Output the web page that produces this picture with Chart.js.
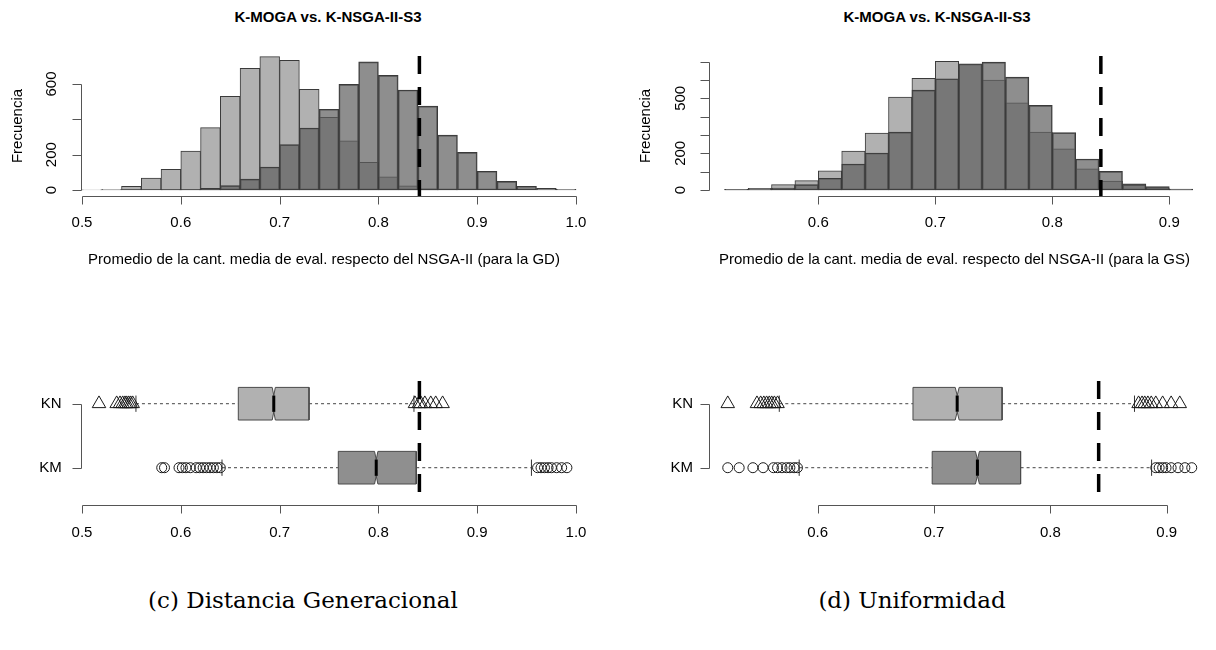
<!DOCTYPE html>
<html>
<head>
<meta charset="utf-8">
<script src="https://cdn.jsdelivr.net/npm/chart.js@4.4.1/dist/chart.umd.min.js"></script>
<style>
  body { margin: 0; background: #fff; }
  #page { position: relative; width: 1216px; height: 650px; font-family: "Liberation Sans", Arial, sans-serif; color: #000; }
  canvas { position: absolute; }
  .title { position: absolute; top: 8px; width: 300px; margin-left: -150px; text-align: center; font-weight: bold; font-size: 15px; line-height: 18px; }
  .caption { position: absolute; top: 585px; width: 420px; margin-left: -210px; text-align: center; font-family: "DejaVu Serif", serif; font-size: 23px; line-height: 30px; }
</style>
</head>
<body>
<div id="page">
  <div class="title" style="left:328px">K-MOGA vs. K-NSGA-II-S3</div>
  <div class="title" style="left:937px">K-MOGA vs. K-NSGA-II-S3</div>
  <canvas id="histGD" width="608" height="290" style="left:0;top:0"></canvas>
  <canvas id="histGS" width="608" height="290" style="left:608px;top:0"></canvas>
  <canvas id="boxGD" width="608" height="250" style="left:0;top:300px"></canvas>
  <canvas id="boxGS" width="608" height="250" style="left:608px;top:300px"></canvas>
  <div class="caption" style="left:303px">(c) Distancia Generacional</div>
  <div class="caption" style="left:912px">(d) Uniformidad</div>
</div>
<script>
// ---- histogram data (bin midpoints, width 0.02) ----
const gdBins = [0.51, 0.53, 0.55, 0.57, 0.59, 0.61, 0.63, 0.65, 0.67, 0.69, 0.71, 0.73, 0.75,
                0.77, 0.79, 0.81, 0.83, 0.85, 0.87, 0.89, 0.91, 0.93, 0.95, 0.97, 0.99];
const gdKN = [1, 4, 21, 68, 117, 221, 353, 530, 689, 755, 734, 570, 412,
              279, 157, 74, 23, 6, 2, 0, 0, 0, 0, 0, 0];
const gdKM = [0, 0, 0, 0, 1, 2, 9, 25, 62, 130, 257, 351, 457,
              598, 725, 649, 566, 475, 311, 213, 106, 49, 21, 9, 4];

const gsBins = [0.53, 0.55, 0.57, 0.59, 0.61, 0.63, 0.65, 0.67, 0.69, 0.71,
                0.73, 0.75, 0.77, 0.79, 0.81, 0.83, 0.85, 0.87, 0.89, 0.91];
const gsKN = [4, 9, 29, 51, 105, 213, 311, 507, 609, 702, 684, 600, 476, 316, 225, 115, 49, 25, 9, 4];
const gsKM = [3, 7, 11, 29, 64, 142, 202, 316, 545, 607, 689, 698, 616, 462, 313, 169, 102, 33, 18, 5];

// ---- boxplot data: [whisker low, Q1, median, Q3, whisker high] ----
const groups = ['KM', 'KN'];
const gdStatsKM = [0.6417, 0.7594, 0.7978, 0.8383, 0.9549];
const gdStatsKN = [0.5546, 0.6582, 0.6941, 0.7298, 0.8360];
const gsStatsKM = [0.5841, 0.6984, 0.7373, 0.7744, 0.8870];
const gsStatsKN = [0.5670, 0.6819, 0.7199, 0.7585, 0.8723];
const gdNotch = [0.0017, 0.0016];   // KM, KN
const gsNotch = [0.0017, 0.0017];

const gdOutKM = [0.5807, 0.5835, 0.5982, 0.6016, 0.6052, 0.6096, 0.6156, 0.6191, 0.6226, 0.6261, 0.6296,
                 0.6330, 0.6365, 0.6400, 0.9611, 0.9646, 0.9681, 0.9717, 0.9751, 0.9804, 0.9855, 0.9908];
const gdOutKN = [0.5172, 0.5351, 0.5385, 0.5412, 0.5435, 0.5452, 0.5473, 0.5493, 0.5513,
                 0.8370, 0.8410, 0.8430, 0.8470, 0.8530, 0.8580, 0.8650];
const gsOutKM = [0.5227, 0.5325, 0.5443, 0.5531, 0.5620, 0.5655, 0.5693, 0.5732, 0.5761, 0.5797, 0.5826,
                 0.8906, 0.8935, 0.8965, 0.8994, 0.9038, 0.9097, 0.9156, 0.9215];
const gsOutKN = [0.5227, 0.5478, 0.5510, 0.5537, 0.5561, 0.5584, 0.5605, 0.5628, 0.5655,
                 0.8758, 0.8788, 0.8811, 0.8838, 0.8867, 0.8906, 0.8965, 0.9038, 0.9112];

const refLine = 0.8415;

// ---- ticks ----
const gdXTicks = [0.5, 0.6, 0.7, 0.8, 0.9, 1.0];
const gdXLabels = ['0.5', '0.6', '0.7', '0.8', '0.9', '1.0'];
const gsXTicks = [0.6, 0.7, 0.8, 0.9];
const gsXLabels = ['0.6', '0.7', '0.8', '0.9'];
const gdYTicks = [0, 200, 400, 600];
const gdYLabels = ['0', '200', '', '600'];
const gsYTicks = [0, 100, 200, 300, 400, 500, 600, 700];
const gsYLabels = ['0', '', '200', '', '', '500', '', ''];
const rowTicks = [1, 2];

Chart.defaults.font.family = '"Liberation Sans", Arial, sans-serif';
Chart.defaults.font.size = 15;
Chart.defaults.color = '#000';

const KN_FILL = '#b1b1b1';
const KM_HIST = 'rgba(94,94,94,0.7)';
const KM_BOX = '#8f8f8f';

function setTicks(values) {
  return scale => { scale.ticks = values.map(v => ({ value: v })); };
}
function labelsFor(values, labels) {
  return v => { const i = values.indexOf(v); return i < 0 ? '' : labels[i]; };
}

// R-like axes: line only between first and last tick, ticks pointing out
const rAxis = {
  id: 'rAxis',
  afterDraw(chart, args, opts) {
    const ctx = chart.ctx, area = chart.chartArea;
    const sx = chart.scales.x, sy = chart.scales.y;
    const xs = sx.ticks.map(t => Math.round(sx.getPixelForValue(t.value)) + 0.5);
    const ys = sy.ticks.map(t => Math.round(sy.getPixelForValue(t.value)) + 0.5);
    const by = Math.round(area.bottom) + 0.5;
    const lx = Math.round(area.left) + 0.5;
    ctx.save();
    ctx.strokeStyle = opts.color;
    ctx.lineWidth = 1;
    ctx.beginPath();
    ctx.moveTo(xs[0], by); ctx.lineTo(xs[xs.length - 1], by);
    xs.forEach(x => { ctx.moveTo(x, by); ctx.lineTo(x, by + opts.xTick); });
    ctx.moveTo(lx, ys[0]); ctx.lineTo(lx, ys[ys.length - 1]);
    ys.forEach(y => { ctx.moveTo(lx, y); ctx.lineTo(lx - opts.yTick, y); });
    ctx.stroke();
    ctx.restore();
  }
};

function histogram(id, bins, kn, km, ax) {
  const pts = arr => bins.map((b, i) => ({ x: b, y: arr[i] }));
  return new Chart(document.getElementById(id), {
    type: 'bar',
    data: {
      datasets: [
        { type: 'line', data: [{ x: refLine, y: ax.yMax }, { x: refLine, y: ax.yMin }],
          borderColor: '#000', borderWidth: 3.5, borderDash: [18, 13], borderCapStyle: 'butt',
          pointRadius: 0, order: 0 },
        { label: 'KM', data: pts(km), backgroundColor: KM_HIST, borderColor: '#3a3a3a',
          borderWidth: 1, borderSkipped: false, clip: false, order: 1 },
        { label: 'KN', data: pts(kn), backgroundColor: KN_FILL, borderColor: '#3a3a3a',
          borderWidth: 1, borderSkipped: false, clip: false, order: 2 }
      ]
    },
    options: {
      responsive: false,
      animation: false,
      layout: { padding: ax.pad },
      datasets: { bar: { grouped: false, barPercentage: 1, categoryPercentage: 1 } },
      plugins: { legend: { display: false }, tooltip: { enabled: false },
                 rAxis: { xTick: 8, yTick: 9, color: '#555' } },
      scales: {
        x: {
          type: 'linear', offset: false, min: ax.xMin, max: ax.xMax,
          afterBuildTicks: setTicks(ax.xTicks),
          afterFit: s => { s.height = 94; },
          grid: { display: false, drawTicks: false }, border: { display: false },
          ticks: { autoSkip: false, maxRotation: 0, padding: 18.3, callback: labelsFor(ax.xTicks, ax.xLabels) },
          title: { display: true, text: ax.xTitle, padding: { top: 0, bottom: 21 } }
        },
        y: {
          type: 'linear', min: ax.yMin, max: ax.yMax,
          afterBuildTicks: setTicks(ax.yTicks),
          afterFit: s => { s.width = ax.yWidth; },
          grid: { display: false, drawTicks: false }, border: { display: false },
          ticks: { autoSkip: false, minRotation: 90, maxRotation: 90, crossAlign: 'center',
                   padding: ax.yPad, callback: labelsFor(ax.yTicks, ax.yLabels) },
          title: { display: true, text: 'Frecuencia', padding: { top: 9, bottom: 0 } }
        }
      }
    },
    plugins: [rAxis]
  });
}

const BOX_HALF = 0.255;
const NOTCH_FRAC = 0.5;
const STAPLE_FRAC = 0.5;

function boxplot(id, stats, notches, outliers, ax) {
  const datasets = [];
  const line = (points, extra) => datasets.push(Object.assign({ data: points, pointRadius: 0, fill: false }, extra));
  stats.forEach((s, i) => {
    const row = rowTicks[i];
    const n = notches[i];
    const h = BOX_HALF;
    const isKN = groups[i] === 'KN';
    // whiskers + staples
    const whisk = { borderColor: '#444', borderWidth: 1, borderDash: [3, 3] };
    line([{ x: s[0], y: row }, { x: s[1], y: row }], whisk);
    line([{ x: s[3], y: row }, { x: s[4], y: row }], whisk);
    const staple = { borderColor: '#333', borderWidth: 1 };
    line([{ x: s[0], y: row - h * STAPLE_FRAC }, { x: s[0], y: row + h * STAPLE_FRAC }], staple);
    line([{ x: s[4], y: row - h * STAPLE_FRAC }, { x: s[4], y: row + h * STAPLE_FRAC }], staple);
    // notched box
    line([
      { x: s[1], y: row + h }, { x: s[2] - n, y: row + h }, { x: s[2], y: row + h * NOTCH_FRAC },
      { x: s[2] + n, y: row + h }, { x: s[3], y: row + h }, { x: s[3], y: row - h },
      { x: s[2] + n, y: row - h }, { x: s[2], y: row - h * NOTCH_FRAC }, { x: s[2] - n, y: row - h },
      { x: s[1], y: row - h }, { x: s[1], y: row + h }
    ], { fill: 'shape', backgroundColor: isKN ? KN_FILL : KM_BOX, borderColor: '#4a4a4a', borderWidth: 1 });
    // median
    line([{ x: s[2], y: row - h * NOTCH_FRAC }, { x: s[2], y: row + h * NOTCH_FRAC }],
         { borderColor: '#000', borderWidth: 3 });
    // outliers
    datasets.push({
      data: outliers[i].map(v => ({ x: v, y: row })),
      showLine: false,
      pointStyle: isKN ? 'triangle' : 'circle',
      pointRadius: isKN ? 7.8 : 5,
      pointBackgroundColor: 'rgba(0,0,0,0)',
      pointBorderColor: '#1a1a1a',
      pointBorderWidth: 1
    });
  });
  line([{ x: refLine, y: ax.yMax }, { x: refLine, y: ax.yMin }],
       { borderColor: '#000', borderWidth: 3.5, borderDash: [18, 13], borderCapStyle: 'butt' });
  datasets.forEach((d, i) => { d.order = -i; });

  return new Chart(document.getElementById(id), {
    type: 'line',
    data: { datasets },
    options: {
      responsive: false,
      animation: false,
      layout: { padding: ax.pad },
      plugins: { legend: { display: false }, tooltip: { enabled: false },
                 rAxis: { xTick: 8, yTick: 9, color: '#555' } },
      scales: {
        x: {
          type: 'linear', offset: false, min: ax.xMin, max: ax.xMax,
          afterBuildTicks: setTicks(ax.xTicks),
          afterFit: s => { s.height = 45; },
          grid: { display: false, drawTicks: false }, border: { display: false },
          ticks: { autoSkip: false, maxRotation: 0, padding: 19, callback: labelsFor(ax.xTicks, ax.xLabels) }
        },
        y: {
          type: 'linear', min: ax.yMin, max: ax.yMax,
          afterBuildTicks: setTicks(rowTicks),
          afterFit: s => { s.width = ax.yWidth; },
          grid: { display: false, drawTicks: false }, border: { display: false },
          ticks: { autoSkip: false, crossAlign: 'near', padding: ax.yPad,
                   callback: labelsFor(rowTicks, groups) }
        }
      }
    },
    plugins: [rAxis]
  });
}

histogram('histGD', gdBins, gdKN, gdKM, {
  xMin: 0.49899, xMax: 0.99089, yMin: -33.96, yMax: 758.5,
  xTicks: gdXTicks, xLabels: gdXLabels, yTicks: gdYTicks, yLabels: gdYLabels,
  pad: { left: 0, right: 41, top: 56, bottom: 0 }, yWidth: 81, yPad: 16.8,
  xTitle: 'Promedio de la cant. media de eval. respecto del NSGA-II (para la GD)'
});
histogram('histGS', gsBins, gsKN, gsKM, {
  xMin: 0.50658, xMax: 0.92624, yMin: -32.73, yMax: 731.1,
  xTicks: gsXTicks, xLabels: gsXLabels, yTicks: gsYTicks, yLabels: gsYLabels,
  pad: { left: 20, right: 16, top: 56, bottom: 0 }, yWidth: 81, yPad: 15.2,
  xTitle: 'Promedio de la cant. media de eval. respecto del NSGA-II (para la GS)'
});
boxplot('boxGD', [gdStatsKM, gdStatsKN], gdNotch, [gdOutKM, gdOutKN], {
  xMin: 0.49899, xMax: 1.01417, yMin: 0.417, yMax: 2.355,
  xTicks: gdXTicks, xLabels: gdXLabels,
  pad: { left: 0, right: 18, top: 81, bottom: 0 }, yWidth: 81, yPad: 19.3
});
boxplot('boxGS', [gsStatsKM, gsStatsKN], gsNotch, [gsOutKM, gsOutKN], {
  xMin: 0.50658, xMax: 0.93479, yMin: 0.417, yMax: 2.355,
  xTicks: gsXTicks, xLabels: gsXLabels,
  pad: { left: 20, right: 6, top: 81, bottom: 0 }, yWidth: 81, yPad: 16
});
</script>
</body>
</html>
